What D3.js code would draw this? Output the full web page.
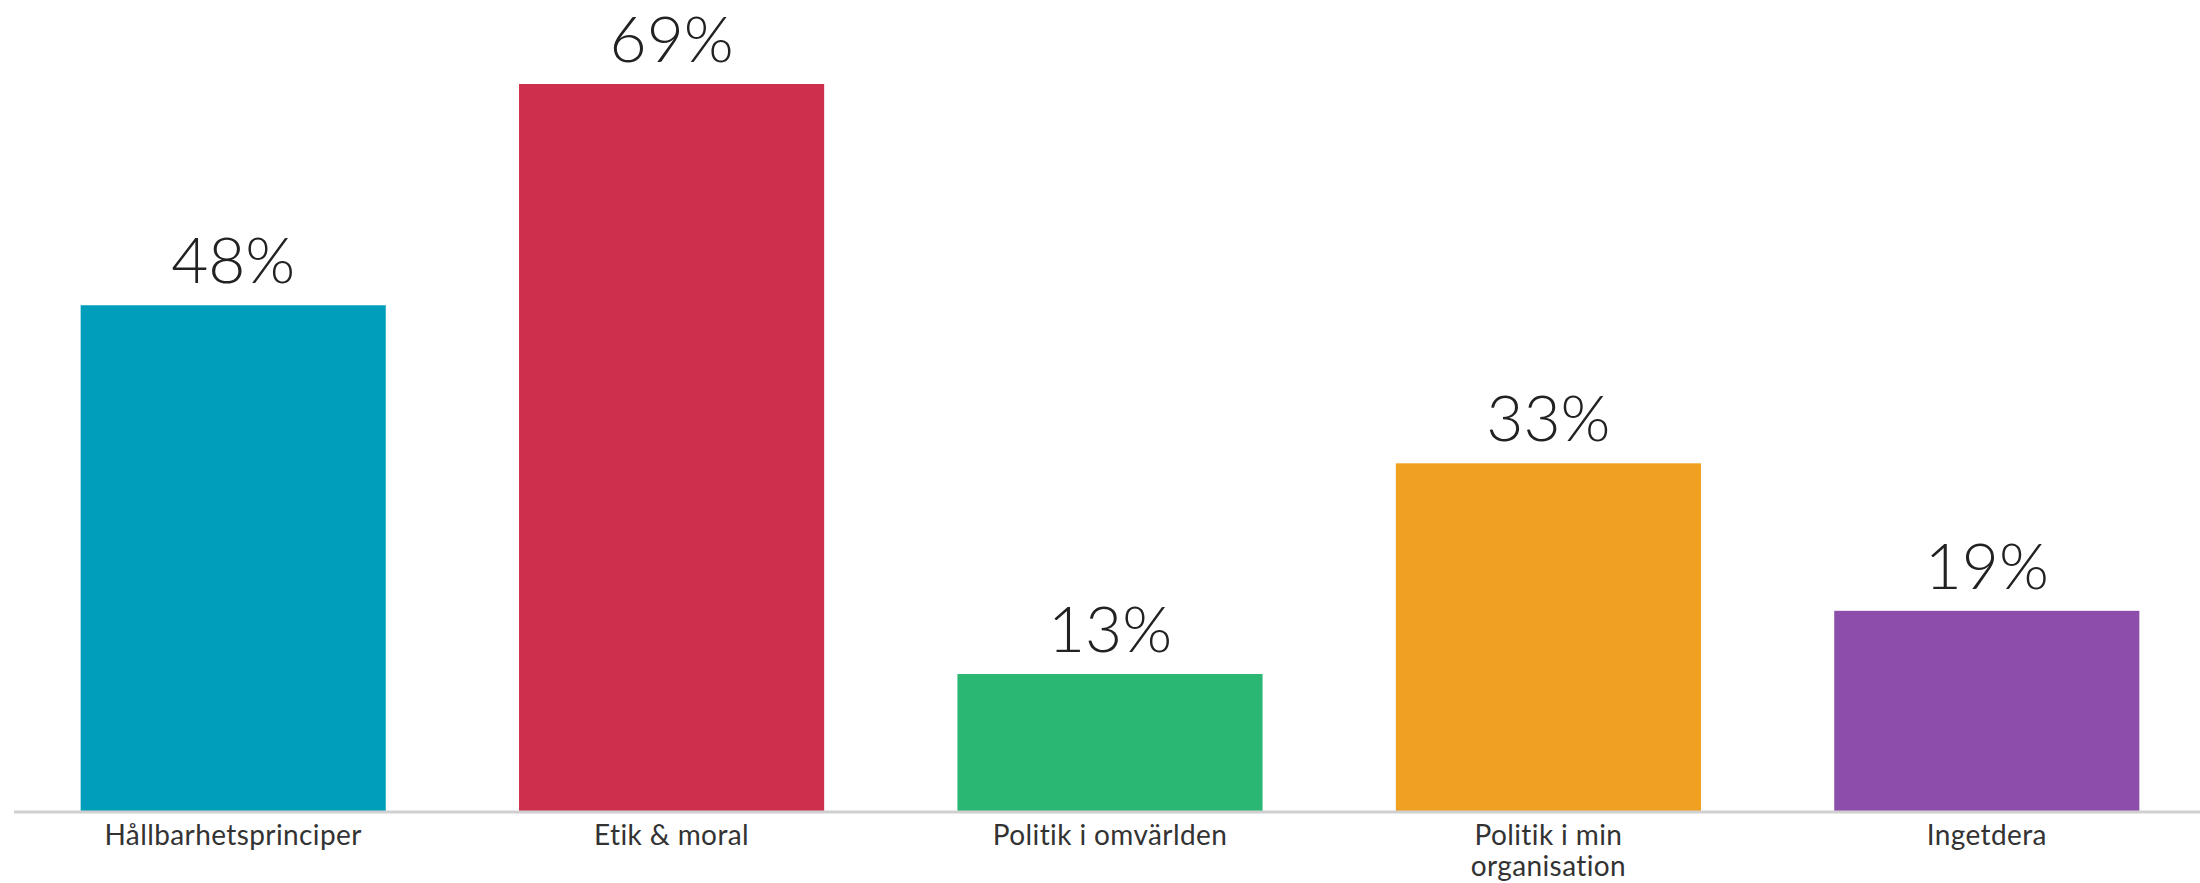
<!DOCTYPE html>
<html lang="sv">
<head>
<meta charset="utf-8">
<title>Bar chart</title>
<script src="https://d3js.org/d3.v7.min.js"></script>
<style>
body { margin: 0; background: #fff; }
svg { display: block; }
.value { font-family: "Lato", "Open Sans", sans-serif; font-size: 64px; font-weight: 300; fill: #222; text-anchor: middle; }
.cat { font-family: "Lato", "Open Sans", sans-serif; font-size: 28px; fill: #333; text-anchor: middle; letter-spacing: 0.4px; }
</style>
</head>
<body>
<script>
// data
var categories = ["Hållbarhetsprinciper", "Etik & moral", "Politik i omvärlden", "Politik i min organisation", "Ingetdera"];
var labelLines = [["Hållbarhetsprinciper"], ["Etik & moral"], ["Politik i omvärlden"], ["Politik i min", "organisation"], ["Ingetdera"]];
var values = [48, 69, 13, 33, 19];
var colors = ["#009EBA", "#CE2F4D", "#2AB673", "#F1A121", "#8C4EAA"];

var width = 2200, height = 883;
var baseline = 811;

var svg = d3.select("body").append("svg")
    .attr("width", width)
    .attr("height", height);

var x = d3.scaleBand()
    .domain(categories)
    .range([14, 2206])
    .paddingInner(0.304)
    .paddingOuter(0.152);

var y = d3.scaleLinear()
    .domain([0, 69])
    .range([baseline, 84]);

var data = categories.map(function(c, i) {
  return {cat: c, value: values[i], color: colors[i], lines: labelLines[i]};
});

// bars
svg.selectAll(".bar")
  .data(data)
  .enter().append("rect")
    .attr("class", "bar")
    .attr("x", function(d) { return x(d.cat); })
    .attr("y", function(d) { return y(d.value); })
    .attr("width", x.bandwidth())
    .attr("height", function(d) { return baseline - y(d.value); })
    .attr("fill", function(d) { return d.color; });

// baseline
svg.append("line")
    .attr("x1", 14).attr("x2", width)
    .attr("y1", baseline + 1).attr("y2", baseline + 1)
    .attr("stroke", "#d0d0d0")
    .attr("stroke-width", 3);

// value labels
svg.selectAll(".value")
  .data(data)
  .enter().append("text")
    .attr("class", "value")
    .attr("x", function(d) { return x(d.cat) + x.bandwidth() / 2; })
    .attr("y", function(d) { return y(d.value) - 22; })
    .text(function(d) { return d.value + "%"; });

// category labels
var cats = svg.selectAll(".cat")
  .data(data)
  .enter().append("text")
    .attr("class", "cat")
    .attr("x", function(d) { return x(d.cat) + x.bandwidth() / 2; })
    .attr("y", 845);

cats.selectAll("tspan")
  .data(function(d) { return d.lines.map(function(l) { return {line: l, cx: x(d.cat) + x.bandwidth() / 2}; }); })
  .enter().append("tspan")
    .attr("x", function(t) { return t.cx; })
    .attr("dy", function(t, i) { return i === 0 ? 0 : 31; })
    .text(function(t) { return t.line; });
</script>
</body>
</html>
